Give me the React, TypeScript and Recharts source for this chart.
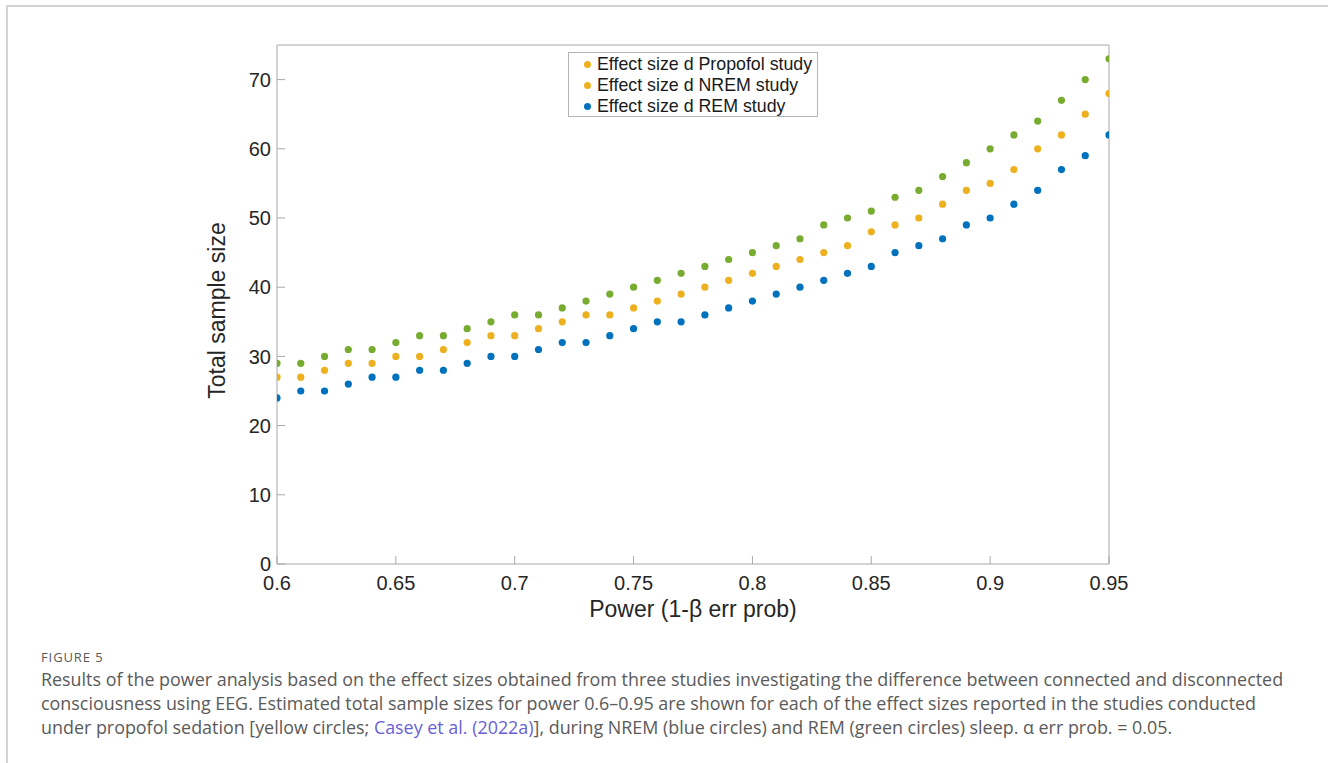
import { ScatterChart, Scatter, XAxis, YAxis, Label } from "recharts";

// power values 0.60 .. 0.95
const power = [
  0.6, 0.61, 0.62, 0.63, 0.64, 0.65, 0.66, 0.67, 0.68, 0.69, 0.7, 0.71,
  0.72, 0.73, 0.74, 0.75, 0.76, 0.77, 0.78, 0.79, 0.8, 0.81, 0.82, 0.83,
  0.84, 0.85, 0.86, 0.87, 0.88, 0.89, 0.9, 0.91, 0.92, 0.93, 0.94, 0.95,
];

// total sample size for each study
const greenSizes = [
  29, 29, 30, 31, 31, 32, 33, 33, 34, 35, 36, 36, 37, 38, 39, 40, 41, 42,
  43, 44, 45, 46, 47, 49, 50, 51, 53, 54, 56, 58, 60, 62, 64, 67, 70, 73,
];
const yellowSizes = [
  27, 27, 28, 29, 29, 30, 30, 31, 32, 33, 33, 34, 35, 36, 36, 37, 38, 39,
  40, 41, 42, 43, 44, 45, 46, 48, 49, 50, 52, 54, 55, 57, 60, 62, 65, 68,
];
const blueSizes = [
  24, 25, 25, 26, 27, 27, 28, 28, 29, 30, 30, 31, 32, 32, 33, 34, 35, 35,
  36, 37, 38, 39, 40, 41, 42, 43, 45, 46, 47, 49, 50, 52, 54, 57, 59, 62,
];

const xTicks = [0.6, 0.65, 0.7, 0.75, 0.8, 0.85, 0.9, 0.95];
const yTicks = [0, 10, 20, 30, 40, 50, 60, 70];

// legend as it appears in the figure
const legendItems = [
  { label: "Effect size d Propofol study", color: "#EDB120" },
  { label: "Effect size d NREM study", color: "#EDB120" },
  { label: "Effect size d REM study", color: "#0072BD" },
];

const toPoints = (sizes: number[]) => power.map((p, i) => ({ x: p, y: sizes[i] }));

const axisColor = "#a8a8a8";
const sans = "Liberation Sans, Arial, sans-serif";
const tickFont = { fill: "#262626", fontSize: 20, fontFamily: sans };

const dot = (color: string) => (props: any) =>
  <circle cx={props.cx} cy={props.cy} r={3.6} fill={color} />;

function LegendBox() {
  return (
    <div
      style={{
        position: "absolute",
        left: 568,
        top: 52,
        width: 250,
        height: 65,
        border: "1px solid #b5b5b5",
        background: "#fff",
        fontFamily: sans,
        fontSize: 17.8,
        color: "#1a1a1a",
        boxSizing: "border-box",
        paddingTop: 1,
      }}
    >
      {legendItems.map((it) => (
        <div key={it.label} style={{ display: "flex", alignItems: "center", height: 21, whiteSpace: "nowrap" }}>
          <span
            style={{
              display: "inline-block",
              flexShrink: 0,
              width: 7,
              height: 7,
              borderRadius: "50%",
              background: it.color,
              marginLeft: 15,
              marginRight: 6,
            }}
          />
          {it.label}
        </div>
      ))}
    </div>
  );
}

export default function App() {
  return (
    <div style={{ position: "absolute", left: 0, top: 0, width: 1328, height: 763, background: "#fff" }}>
      <div
        style={{
          position: "absolute",
          left: 6,
          top: 5,
          width: 1322,
          height: 758,
          borderTop: "2px solid #d3d3d3",
          borderLeft: "2px solid #d3d3d3",
        }}
      />
      <div style={{ position: "absolute", left: 0, top: 0 }}>
        <ScatterChart
          width={1328}
          height={640}
          margin={{ top: 44, right: 218, bottom: 16, left: 197 }}
        >
          <XAxis
            xAxisId="b"
            type="number"
            dataKey="x"
            domain={[0.6, 0.95]}
            ticks={xTicks}
            tickFormatter={(v) => String(+v.toFixed(2))}
            height={60}
            stroke={axisColor}
            tickSize={-8}
            tickMargin={20}
            tick={tickFont}
            allowDataOverflow
          >
            <Label
              value="Power (1-β err prob)"
              position="insideBottom"
              offset={7}
              style={{ fill: "#262626", fontSize: 23, fontFamily: sans }}
            />
          </XAxis>
          <XAxis
            xAxisId="t"
            orientation="top"
            type="number"
            dataKey="x"
            domain={[0.6, 0.95]}
            ticks={xTicks}
            height={1}
            stroke={axisColor}
            tickSize={-8}
            tick={false}
            allowDataOverflow
          />
          <YAxis
            yAxisId="l"
            type="number"
            dataKey="y"
            domain={[0, 75]}
            ticks={yTicks}
            width={80}
            stroke={axisColor}
            tickSize={-8}
            tickMargin={14}
            tick={tickFont}
            allowDataOverflow
          >
            <Label
              value="Total sample size"
              angle={-90}
              position="insideLeft"
              offset={20}
              dy={6}
              style={{ textAnchor: "middle", fill: "#262626", fontSize: 23, fontFamily: sans }}
            />
          </YAxis>
          <YAxis
            yAxisId="r"
            orientation="right"
            type="number"
            dataKey="y"
            domain={[0, 75]}
            ticks={yTicks}
            width={1}
            stroke={axisColor}
            tickSize={-8}
            tick={false}
            allowDataOverflow
          />
          <Scatter xAxisId="b" yAxisId="l" data={toPoints(greenSizes)} fill="#77AC30" shape={dot("#77AC30")} isAnimationActive={false} />
          <Scatter xAxisId="b" yAxisId="l" data={toPoints(yellowSizes)} fill="#EDB120" shape={dot("#EDB120")} isAnimationActive={false} />
          <Scatter xAxisId="b" yAxisId="l" data={toPoints(blueSizes)} fill="#0072BD" shape={dot("#0072BD")} isAnimationActive={false} />
        </ScatterChart>
      </div>
      <LegendBox />
      <div
        style={{
          position: "absolute",
          left: 41,
          top: 648,
          fontFamily: "Open Sans, Noto Sans, sans-serif",
          color: "#5a5a5a",
          whiteSpace: "nowrap",
        }}
      >
        <div style={{ fontSize: 13, lineHeight: "19px", letterSpacing: 0.9 }}>FIGURE 5</div>
        <div style={{ fontSize: 17.9, lineHeight: "24px" }}>
          Results of the power analysis based on the effect sizes obtained from three studies investigating the difference between connected and disconnected
          <br />
          consciousness using EEG. Estimated total sample sizes for power 0.6–0.95 are shown for each of the effect sizes reported in the studies conducted
          <br />
          under propofol sedation [yellow circles; <span style={{ color: "#6a5fd8" }}>Casey et al. (2022a)</span>], during NREM (blue circles) and REM (green circles) sleep. α err prob. = 0.05.
        </div>
      </div>
    </div>
  );
}
